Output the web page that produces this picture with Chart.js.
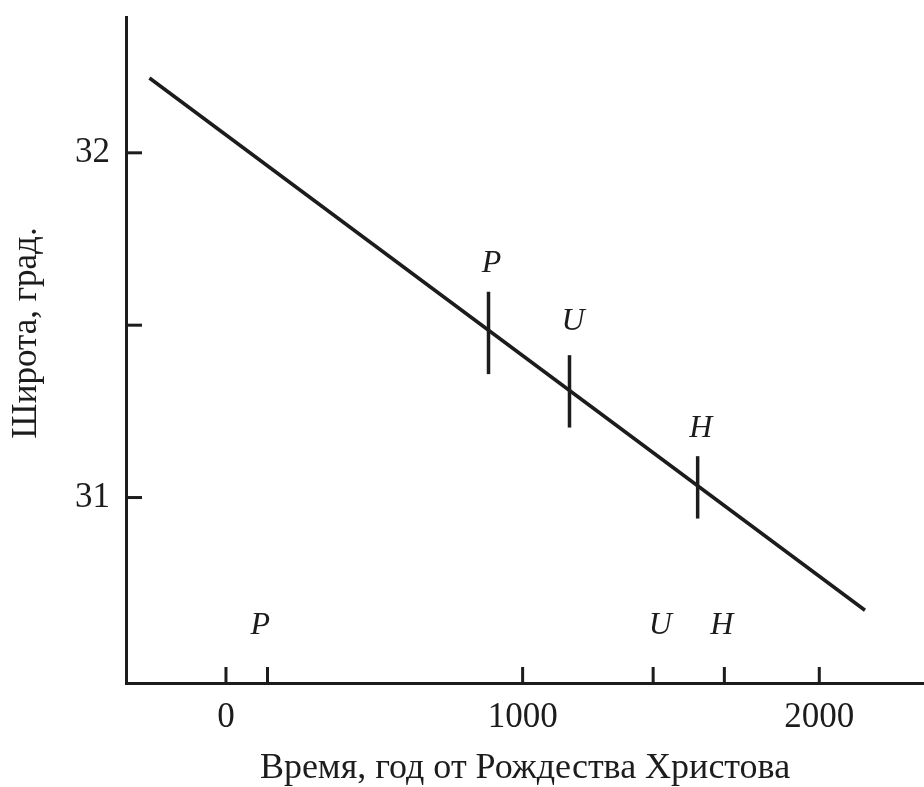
<!DOCTYPE html>
<html>
<head>
<meta charset="utf-8">
<script src="https://cdn.jsdelivr.net/npm/chart.js@4.4.1/dist/chart.umd.min.js"></script>
<style>
html,body{margin:0;padding:0;background:#fff;}
canvas{display:block;}
</style>
</head>
<body>
<canvas id="c" width="924" height="787"></canvas>
<script>
// Regression line (years AD, latitude degrees)
const lineX = [-258, 2154];
const lineY = [32.217, 30.673];

// Error bars on the line
const barNames = ['P', 'U', 'H'];
const barX = [885, 1158, 1590];
const barLow = [31.358, 31.203, 30.939];
const barHigh = [31.597, 31.413, 31.120];
const barLabelX = [895, 1170, 1601];
const barLabelY = [31.679, 31.51, 31.201];

// Marks on time axis (catalogue dates)
const xTickValues = [0, 140, 1000, 1440, 1680, 2000];
const xTickLabels = ['0', '', '1000', '', '', '2000'];
const axisMarkNames = ['P', 'U', 'H'];
const axisMarkX = [116, 1464, 1671];
const axisMarkY = [30.629, 30.629, 30.629];

const yTickValues = [31, 31.5, 32];
const yTickLabels = ['31', '', '32'];

const xTitle = 'Время, год от Рождества Христова';
const yTitle = 'Широта, град.';

const INK = '#1c1c1c';

const datasets = [{
  data: lineX.map((x, i) => ({x: x, y: lineY[i]})),
  showLine: true, borderColor: INK, borderWidth: 3.5, pointRadius: 0, borderCapStyle: 'butt'
}];
barX.forEach((x, i) => {
  datasets.push({
    data: [{x: x, y: barLow[i]}, {x: x, y: barHigh[i]}],
    showLine: true, borderColor: INK, borderWidth: 3.5, pointRadius: 0
  });
});

const inwardTicks = {
  id: 'inwardTicks',
  afterDraw(chart) {
    const c = chart.ctx, xs = chart.scales.x, ys = chart.scales.y, a = chart.chartArea;
    c.save();
    c.strokeStyle = INK;
    c.lineWidth = 3;
    xTickValues.forEach(v => {
      const px = xs.getPixelForValue(v);
      c.beginPath(); c.moveTo(px, a.bottom); c.lineTo(px, a.bottom - 16); c.stroke();
    });
    yTickValues.forEach(v => {
      const py = ys.getPixelForValue(v);
      c.beginPath(); c.moveTo(a.left, py); c.lineTo(a.left + 16, py); c.stroke();
    });
    c.fillStyle = INK;
    c.font = 'italic 32px "Liberation Serif"';
    c.textAlign = 'center';
    c.textBaseline = 'middle';
    barNames.forEach((n, i) => {
      c.fillText(n, xs.getPixelForValue(barLabelX[i]), ys.getPixelForValue(barLabelY[i]));
    });
    axisMarkNames.forEach((n, i) => {
      c.fillText(n, xs.getPixelForValue(axisMarkX[i]), ys.getPixelForValue(axisMarkY[i]));
    });
    // vertical axis title, placed slightly above the axis centre as in the original
    c.font = '35px "Liberation Serif"';
    c.translate(27, 333);
    c.rotate(-Math.PI / 2);
    c.fillText(yTitle, 0, 0);
    c.restore();
  }
};

new Chart(document.getElementById('c'), {
  type: 'scatter',
  data: {datasets: datasets},
  options: {
    responsive: false,
    animation: false,
    layout: {padding: {top: 17, right: 0, left: 0, bottom: 0}},
    plugins: {legend: {display: false}, tooltip: {enabled: false}},
    scales: {
      x: {
        type: 'linear', min: -337, max: 2353,
        afterBuildTicks: s => { s.ticks = xTickValues.map(v => ({value: v})); },
        afterFit: s => { s.height = 104; s.paddingLeft = 0; s.paddingRight = 0; },
        grid: {display: false, drawTicks: false},
        border: {display: true, color: INK, width: 3},
        ticks: {
          autoSkip: false, maxRotation: 0, padding: 14, color: INK,
          font: {family: 'Liberation Serif', size: 35},
          callback: (v, i) => xTickLabels[i]
        },
        title: {
          display: true, text: xTitle, color: INK,
          font: {family: 'Liberation Serif', size: 36, lineHeight: 1}, padding: {top: 0, bottom: 0}
        }
      },
      y: {
        type: 'linear', min: 30.462, max: 32.394,
        afterBuildTicks: s => { s.ticks = yTickValues.map(v => ({value: v})); },
        afterFit: s => { s.width = 126; s.paddingTop = 0; s.paddingBottom = 0; },
        grid: {display: false, drawTicks: false},
        border: {display: true, color: INK, width: 3},
        ticks: {
          autoSkip: false, padding: 16, color: INK,
          font: {family: 'Liberation Serif', size: 35},
          callback: (v, i) => yTickLabels[i]
        },
        title: {display: false, text: yTitle}
      }
    }
  },
  plugins: [inwardTicks]
});
</script>
</body>
</html>
